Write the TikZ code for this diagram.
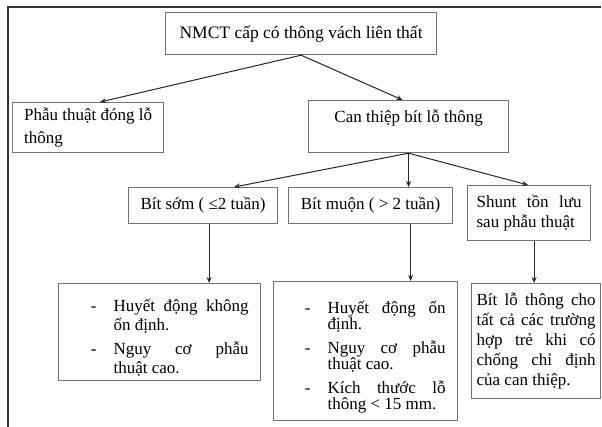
\documentclass[tikz,border=0pt]{standalone}
\usepackage{fontspec}
\setmainfont{Liberation Serif}
\usetikzlibrary{positioning, arrows.meta}

\tikzset{
  box/.style={draw=black!55, line width=1.2pt, rectangle, anchor=north west, inner ysep=0pt, font=\fontsize{17}{20}\selectfont},
  arr/.style={-{Stealth[length=6pt,width=5pt]}, line width=1pt, draw=black!85},
}
\newcommand{\gach}{\par\noindent\llap{-\hspace{17pt}}}

\begin{document}
\begin{tikzpicture}[x=1pt, y=-1pt]
  \useasboundingbox (0,0) rectangle (602,427);
  % khung
  \draw[line width=1.5pt, black!80] (8,427) -- (8,7) -- (601,7);

  % tang 1
  \node[box, minimum width=271, minimum height=42, font=\fontsize{17.5}{20}\selectfont] (goc) at (165,12) {NMCT cấp có thông vách liên thất\\[-4pt]\mbox{}};

  % tang 2
  \node[box, minimum width=151, minimum height=50, align=left] (donglo) at (12,102) {Phẫu thuật đóng lỗ\\[3pt]thông};
  \node[box, minimum width=200, minimum height=52, align=center] (canthiep) at (308,100) {Can thiệp bít lỗ thông\\\mbox{}};

  % tang 3
  \node[box, minimum width=149, minimum height=36] (bitsom) at (128,187) {Bít sớm ( ≤2 tuần)};
  \node[box, minimum width=164, minimum height=36] (bitmuon) at (288,187) {Bít muộn ( > 2 tuần)};
  \node[box, inner xsep=9, text width=105, minimum height=55, align=justify] (shunt) at (467,185) {Shunt tồn lưu\linebreak sau phẫu thuật};

  % tang 4
  \node[box, inner xsep=12, text width=178, minimum height=97, align=justify] (som) at (58,283)
    {\leftskip=43pt \parskip=5pt \baselineskip=19pt \gach Huyết động không\linebreak ổn định. \gach Nguy cơ phẫu\linebreak thuật cao.\par\vspace{3pt}};
  \node[box, inner xsep=12, text width=160, minimum height=139, align=justify] (muon) at (273,281)
    {\leftskip=42pt \parskip=8pt \baselineskip=16pt \gach Huyết động ổn\linebreak định. \gach Nguy cơ phẫu\linebreak thuật cao. \gach Kích thước lỗ\linebreak thông < 15 mm.\par\vspace{9pt}};
  \node[box, inner xsep=5, text width=119, minimum height=115, align=justify] (moi) at (471,283)
    {Bít lỗ thông cho\linebreak tất cả các trường\linebreak hợp trẻ khi có\linebreak chống chỉ định\linebreak của can thiệp.};

  % mui ten
  \draw[arr] (goc.south) -- ([xshift=12]donglo.north);
  \draw[arr] (goc.south) -- ([xshift=-6]canthiep.north);
  \draw[arr] (canthiep.south) -- ([xshift=31]bitsom.north);
  \draw[arr] (canthiep.south) -- (canthiep.south |- bitmuon.north);
  \draw[arr] (canthiep.south) -- ([xshift=-1]shunt.north);
  \draw[arr] ([xshift=6]bitsom.south) -- ([xshift=6]bitsom.south |- som.north);
  \draw[arr] ([xshift=40]bitmuon.south) -- ([xshift=40]bitmuon.south |- muon.north);
  \draw[arr] ([xshift=5]shunt.south) -- ([xshift=5]shunt.south |- moi.north);
\end{tikzpicture}
\end{document}
